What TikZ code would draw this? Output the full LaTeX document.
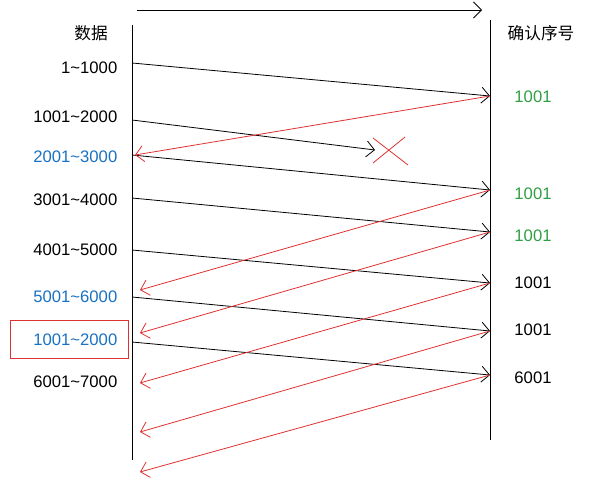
\documentclass[tikz,border=0pt]{standalone}
\usepackage{fontspec}
\setmainfont{Liberation Sans}
\newfontfamily\cjk{Noto Sans CJK SC}
\usetikzlibrary{arrows.meta}
\definecolor{myred}{HTML}{E03131}
\definecolor{mygreen}{HTML}{2F9E44}
\definecolor{myblue}{HTML}{1971C2}
\begin{document}
\begin{tikzpicture}[x=0.75pt,y=-0.75pt,
  lbl/.style={font=\fontsize{12.5}{14}\selectfont},
  blk/.style={draw=black,line width=0.6pt,-{Straight Barb[length=6pt]}},
  rd/.style={draw=myred,line width=0.6pt,-{Straight Barb[length=6pt]}}]
\useasboundingbox (0,0) rectangle (605,485);
\draw[line width=0.6pt] (132,25) -- (132,460);
\draw[line width=0.6pt] (490,20) -- (490,440);
\coordinate (t1) at (137,10); \coordinate (t2) at (482,10);
\draw[blk] (t1) -- (t2);
\node[lbl] at (91,33) {\cjk 数据};
\node[lbl] at (541,33) {\cjk 确认序号};
\foreach \y/\t/\c in {68/1\textasciitilde1000/black,117/1001\textasciitilde2000/black,157/2001\textasciitilde3000/myblue,200/3001\textasciitilde4000/black,250/4001\textasciitilde5000/black,297/5001\textasciitilde6000/myblue,340/1001\textasciitilde2000/myblue,382/6001\textasciitilde7000/black}
  \node[lbl,text=\c,anchor=east] at (122,\y) {\t};
\draw[myred] (10,320) rectangle (128,358);
\foreach \y/\t/\c in {97/1001/mygreen,194/1001/mygreen,236/1001/mygreen,283/1001/black,330/1001/black,378/6001/black}
  \node[lbl,text=\c] at (533,\y) {\t};
\foreach \n/\y in {L1/63,L2/120,L3/155,L4/198,L5/250,L6/297,L7/342}
  \coordinate (\n) at (132,\y);
\foreach \n/\y in {R1/96,R3/190,R4/232,R5/283,R6/331,R7/375}
  \coordinate (\n) at (490,\y);
\coordinate (lost) at (375,150);
\draw[blk] (L1) -- (R1);
\draw[blk] (L2) -- (lost);
\draw[blk] (L3) -- (R3);
\draw[blk] (L4) -- (R4);
\draw[blk] (L5) -- (R5);
\draw[blk] (L6) -- (R6);
\draw[blk] (L7) -- (R7);
\draw[myred,line width=0.6pt] (373,138) -- (408,165) (405,137) -- (373,163);
\foreach \a/\b in {R1/{(135,155)},R3/{(140,290)},R4/{(140,333)},R5/{(140,383)},R6/{(140,432)},R7/{(140,472)}}
  \draw[rd] (\a) -- \b;
\end{tikzpicture}
\end{document}
